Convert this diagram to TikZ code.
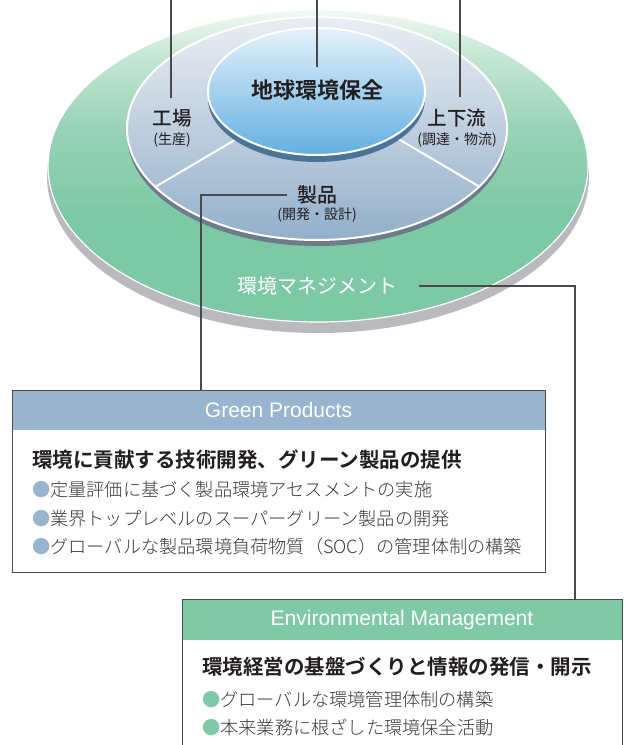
\documentclass[tikz,border=0pt]{standalone}
\usepackage{fontspec}
\setmainfont{Liberation Sans}
\newfontfamily\jp{Noto Sans CJK JP}
\newfontfamily\jpb{Noto Sans CJK JP Bold}
\newfontfamily\jpm{Noto Sans CJK JP Medium}
\newfontfamily\jpl{Noto Sans CJK JP Light}
\usetikzlibrary{calc}
\definecolor{og0}{HTML}{F2F9F4}
\definecolor{og1}{HTML}{C6E7D4}
\definecolor{og2}{HTML}{98D3B6}
\definecolor{og3}{HTML}{7DC8A5}
\definecolor{shadowg}{HTML}{B9B9BE}
\definecolor{midtop}{HTML}{EAEEF3}
\definecolor{midbot}{HTML}{93AFCA}
\definecolor{midrim}{HTML}{6D7B8A}
\definecolor{intop}{HTML}{E6F1FB}
\definecolor{inbot}{HTML}{62AFE2}
\definecolor{inrim}{HTML}{4A7598}
\definecolor{gphead}{HTML}{98B4CE}
\definecolor{emhead}{HTML}{80C9A7}
\definecolor{linec}{HTML}{4A4A4A}
\definecolor{txt}{HTML}{231F20}
\definecolor{btxt}{HTML}{3A3A3A}
\pgfdeclareverticalshading{outerg}{100bp}{color(0bp)=(og3); color(42bp)=(og3); color(56bp)=(og2); color(68bp)=(og1); color(75bp)=(og0); color(100bp)=(og0)}
\begin{document}
\begin{tikzpicture}[x=1pt,y=-1pt,
  conn/.style={draw=linec, line width=1.1pt},
  lab/.style={inner sep=0pt, text=txt},
  sub/.style={lab, font=\jp\fontsize{14}{16}\selectfont},
  head/.style={lab, font=\jpm\fontsize{19.5}{22}\selectfont},
  boxhead/.style={lab, text=white, font=\fontsize{21}{24}\selectfont},
  boxtitle/.style={lab, anchor=west, font=\jpb\fontsize{20.5}{24}\selectfont},
  bullet/.style={lab, anchor=west, text=btxt, font=\jpl\fontsize{18.2}{22}\selectfont},
  boxframe/.style={draw=linec, line width=0.9pt, inner sep=0pt, anchor=north west},
  divider/.style={draw=white, line width=2pt},
]
\useasboundingbox (0,0) rectangle (625,745);
\clip (0,0) rectangle (625,745);
\fill[white] (0,0) rectangle (625,745);

% outer ellipse
\fill[shadowg] (318,176) ellipse [x radius=271pt, y radius=157pt];
\shade[shading=outerg] (318,166) ellipse [x radius=270pt, y radius=156pt];
\draw[white, line width=1.2pt] (318,166) ellipse [x radius=270pt, y radius=156pt];

% middle disc
\fill[midrim] (317,134.5) ellipse [x radius=190pt, y radius=111.5pt];
\shade[top color=midtop, bottom color=midbot] (317,128.5) ellipse [x radius=190pt, y radius=111.5pt];
\draw[white, line width=2pt] (317,128.5) ellipse [x radius=190pt, y radius=111.5pt];

% dividers
\coordinate (d1a) at (245,134);
\coordinate (d1b) at (155,187);
\coordinate (d2a) at (390,134);
\coordinate (d2b) at (480,187);
\draw[divider] (d1a) -- (d1b);
\draw[divider] (d2a) -- (d2b);

% inner ellipse
\fill[inrim] (316.5,98.5) ellipse [x radius=108.5pt, y radius=63.5pt];
\shade[top color=intop, bottom color=inbot] (316.5,91.5) ellipse [x radius=108.5pt, y radius=63.5pt];
\draw[white, line width=2pt] (316.5,91.5) ellipse [x radius=108.5pt, y radius=63.5pt];

% labels
\node[lab, font=\jpb\fontsize{22}{26}\selectfont] (chikyu) at (317,90) {地球環境保全};
\node[head] (kojo) at (172,118) {工場};
\node[sub] (seisan) at (172,140) {(生産)};
\node[head] (ryu) at (457,118) {上下流};
\node[sub] (chotatsu) at (457,140) {(調達・物流)};
\node[head, font=\jpm\fontsize{20}{24}\selectfont] (seihin) at (317,195) {製品};
\node[sub] (kaihatsu) at (317,215) {(開発・設計)};
\node[lab, text=white, font=\jp\fontsize{20}{24}\selectfont] (kanri) at (317,286) {環境マネジメント};

% top connectors
\coordinate (t1) at (171,0);
\coordinate (t2) at (317,0);
\coordinate (t3) at (460,0);
\draw[conn] (t1) -- ($(t1 |- kojo.north)+(0,-11)$);
\draw[conn] (t2) -- ($(t2 |- chikyu.north)+(0,-12)$);
\draw[conn] (t3) -- ($(t3 |- ryu.north)+(0,-12)$);

% box 1
\fill[gphead] (12,390) rectangle (545,430);
\node[boxframe, minimum width=533pt, minimum height=182pt] (box1) at (12,390) {};
\node[boxhead] (gp) at (278.5,410) {Green Products};
\node[boxtitle] (gpt) at (32,460) {環境に貢献する技術開発、グリーン製品の提供};
\node[bullet] (gp1) at (32,490) {{\color{gphead}●}定量評価に基づく製品環境アセスメントの実施};
\node[bullet] (gp2) at (32,518.5) {{\color{gphead}●}業界トップレベルのスーパーグリーン製品の開発};
\node[bullet] (gp3) at (32,547) {{\color{gphead}●}グローバルな製品環境負荷物質（SOC）の管理体制の構築};

% box 2
\fill[emhead] (182,599) rectangle (622,640);
\node[boxframe, minimum width=440pt, minimum height=170pt] (box2) at (182,599) {};
\node[boxhead] (em) at (402,620) {Environmental Management};
\node[boxtitle] (emt) at (202,667) {環境経営の基盤づくりと情報の発信・開示};
\node[bullet] (em1) at (202,700) {{\color{emhead}●}グローバルな環境管理体制の構築};
\node[bullet] (em2) at (202,727) {{\color{emhead}●}本来業務に根ざした環境保全活動};

% connectors to boxes
\coordinate (j1) at (201,390);
\coordinate (j2) at (575,599);
\draw[conn] ($(seihin.west)+(-10,0)$) -| (j1);
\draw[conn] ($(kanri.east)+(22,0)$) -| (j2);
\end{tikzpicture}
\end{document}
